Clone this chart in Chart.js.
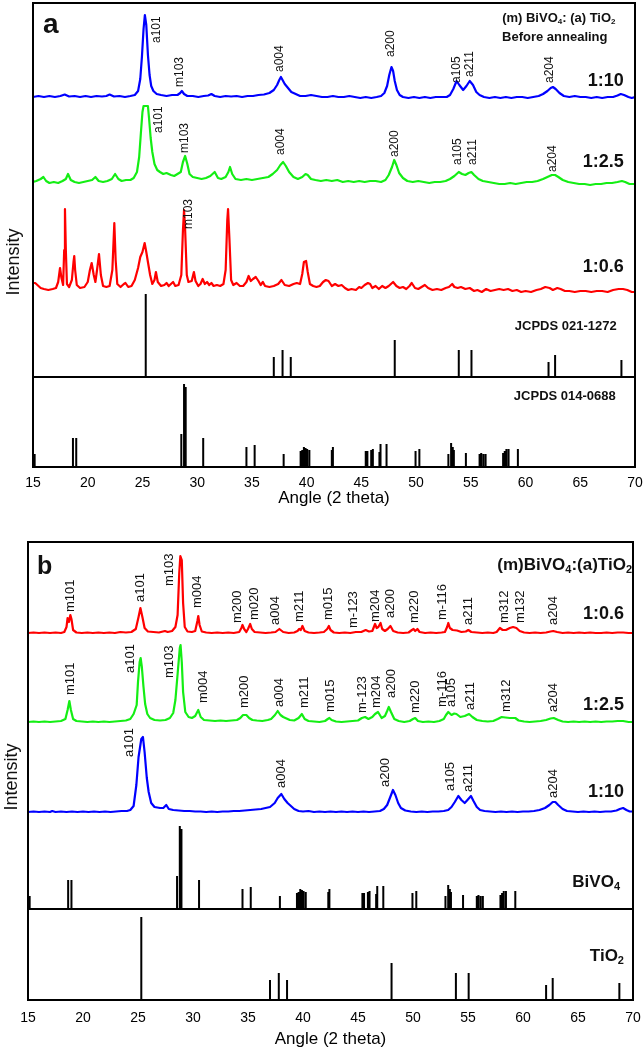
<!DOCTYPE html>
<html>
<head>
<meta charset="utf-8">
<script src="https://cdn.jsdelivr.net/npm/chart.js@4.4.0/dist/chart.umd.min.js"></script>
<style>
  html, body { margin: 0; padding: 0; background: #fff; }
  canvas { display: block; }
</style>
</head>
<body>
<canvas id="chartA" width="644" height="510"></canvas>
<canvas id="chartB" width="644" height="540"></canvas>
<script>
"use strict";

const FONT = 'Arial, "Liberation Sans", sans-serif';

// 2 theta axis
const angleMin = 15, angleMax = 70, angleStep = 5;

// reference cards: anatase TiO2 (JCPDS 021-1272) and monoclinic BiVO4 (JCPDS 014-0688)
const tio2Pos = [25.3, 37.0, 37.8, 38.55, 48.05, 53.9, 55.06, 62.1, 62.7, 68.76];
const tio2Int = [83, 20, 27, 20, 37, 27, 27, 15, 22, 17];
const bivo4Pos = [15.15, 18.65, 18.95, 28.55, 28.8, 28.95, 30.55, 34.5, 35.25, 37.9,
  39.45, 39.6, 39.75, 39.9, 40.05, 40.25, 42.3, 42.4, 45.4, 45.55, 45.9, 46.05,
  46.65, 46.75, 47.3, 49.95, 50.3, 52.95, 53.2, 53.35, 53.45, 54.55, 55.8, 55.95,
  56.15, 56.35, 57.95, 58.1, 58.25, 58.45, 59.3];
const bivo4Int = [13, 29, 29, 33, 83, 80, 29, 20, 22, 13,
  16, 17, 20, 19, 18, 17, 17, 20, 16, 16, 17, 18,
  15, 23, 23, 16, 18, 13, 24, 20, 17, 14, 13, 14,
  13, 13, 14, 16, 18, 18, 18];

// before annealing, [2theta, counts above own baseline]
const rawTen = [[15,0],[15.5,1],[16,0],[16.5,1],[17,0],[17.5,1],[17.9,2.5],[18.3,0.5],[18.8,1],[19.3,0],[19.8,1],[20.3,0],[20.8,1],[21.3,0.5],[21.7,1],[22.0,2.5],[22.4,0.5],[22.9,1],[23.4,0],[23.9,1],[24.3,2],[24.6,6],[24.8,18],[24.95,40],[25.1,68],[25.22,82],[25.35,72],[25.5,42],[25.65,22],[25.8,11],[26.0,6],[26.3,3],[26.7,2],[27.2,1],[27.7,2],[28.2,2],[28.45,4],[28.6,6],[28.8,3],[29.1,1],[29.6,1],[30.1,0],[30.6,1],[31.0,1.5],[31.3,3],[31.6,1],[32.1,0],[32.6,1],[33.1,0.5],[33.6,1],[34.1,0],[34.6,1],[35.1,1],[35.6,2],[36.1,2.5],[36.6,4],[37.0,7],[37.3,12],[37.5,17],[37.65,20],[37.8,17],[38.0,13],[38.3,9],[38.6,5],[39.0,3],[39.4,1],[39.9,1],[40.4,2],[40.9,1],[41.4,0],[41.9,0],[42.4,1],[42.9,0],[43.4,0],[43.9,1],[44.4,0],[44.9,-1],[45.4,0],[45.9,-1],[46.4,0],[46.8,1],[47.1,4],[47.35,11],[47.55,22],[47.75,30],[47.9,26],[48.05,16],[48.25,7],[48.5,2],[48.8,0],[49.3,-1],[49.8,0],[50.3,-1],[50.8,0],[51.3,-1],[51.8,0],[52.3,0],[52.8,0],[53.1,2],[53.4,8],[53.7,16],[53.95,12],[54.3,7],[54.6,11],[54.9,16],[55.2,12],[55.5,5],[55.8,2],[56.2,0],[56.7,-1],[57.2,0],[57.7,-1],[58.2,0],[58.7,-1],[59.2,0],[59.7,0],[60.2,-1],[60.7,0],[61.2,1],[61.6,3],[62.0,6],[62.3,9],[62.5,10],[62.75,8],[63.1,4],[63.5,1],[64.0,0],[64.5,1],[65.0,0],[65.5,0],[66.0,-1],[66.5,0],[67.0,-1],[67.5,0],[68.0,0],[68.4,1.5],[68.7,3],[69.0,2],[69.4,0],[69.7,-1],[70,0]];
const rawTwoFive = [[15,0],[15.3,1],[15.7,3],[15.95,5],[16.2,1],[16.5,-1],[16.9,0],[17.3,-1],[17.7,1],[18.0,3],[18.2,8],[18.45,2],[18.8,0],[19.2,-1],[19.6,0],[20.0,1],[20.4,2],[20.7,5],[21.0,1],[21.4,0],[21.8,1],[22.2,3],[22.5,8],[22.8,3],[23.1,1],[23.5,2],[23.9,2],[24.2,4],[24.5,10],[24.7,25],[24.85,48],[25.0,70],[25.1,76],[25.5,76],[25.6,64],[25.75,44],[25.9,30],[26.1,18],[26.35,12],[26.6,10],[26.9,8],[27.2,9],[27.6,7],[27.9,6],[28.2,8],[28.5,10],[28.7,20],[28.9,26],[29.1,18],[29.3,8],[29.6,5],[30.0,4],[30.4,3],[30.8,4],[31.2,6],[31.6,10],[31.9,4],[32.2,3],[32.6,5],[32.85,10],[33.0,15],[33.2,8],[33.5,3],[34.0,2],[34.5,3],[35.0,2],[35.5,3],[36.0,4],[36.5,5],[36.9,8],[37.3,12],[37.6,17],[37.85,20],[38.1,16],[38.4,10],[38.8,5],[39.2,3],[39.6,5],[39.9,8],[40.1,7],[40.4,3],[40.8,2],[41.3,1],[41.8,2],[42.3,1],[42.8,2],[43.3,0],[43.8,1],[44.3,0],[44.8,1],[45.3,0],[45.8,1],[46.3,1],[46.8,0],[47.2,2],[47.5,7],[47.8,15],[48.0,22],[48.2,17],[48.45,9],[48.8,4],[49.2,1],[49.7,0],[50.2,1],[50.7,0],[51.2,-1],[51.7,0],[52.2,0],[52.7,1],[53.1,3],[53.5,6],[53.9,10],[54.2,8],[54.5,7],[54.8,9],[55.05,10],[55.3,7],[55.7,3],[56.1,1],[56.6,0],[57.1,-1],[57.6,-2],[58.1,-2],[58.6,-1],[59.1,-2],[59.6,-1],[60.1,0],[60.6,0],[61.1,1],[61.6,3],[62.0,5],[62.4,7],[62.7,7],[63.0,5],[63.4,2],[63.9,0],[64.4,-1],[64.9,-2],[65.4,-2],[65.9,-3],[66.4,-2],[66.9,-2],[67.4,-1],[67.9,-1],[68.4,0],[68.8,1],[69.1,0],[69.5,-2],[70,-2]];
const rawZeroSix = [[15.0,7],[15.2,7],[15.4,5],[15.7,2],[16.0,1],[16.4,0],[16.8,1],[17.1,2],[17.3,8],[17.47,22],[17.6,12],[17.75,5],[17.85,40],[17.92,81],[18.0,40],[18.1,6],[18.3,3],[18.55,10],[18.7,28],[18.77,34],[18.85,20],[19.0,5],[19.3,2],[19.7,3],[20.0,8],[20.2,20],[20.36,27],[20.55,15],[20.7,8],[20.85,20],[21.03,36],[21.2,15],[21.4,4],[21.7,3],[22.0,4],[22.25,20],[22.43,67],[22.55,30],[22.7,6],[23.0,3],[23.3,6],[23.45,7],[23.7,3],[24.0,4],[24.3,10],[24.6,22],[24.8,33],[25.0,38],[25.2,47],[25.35,38],[25.5,28],[25.7,15],[25.9,6],[26.1,10],[26.23,18],[26.4,8],[26.7,4],[27.0,5],[27.2,7],[27.4,4],[27.6,6],[27.8,8],[28.0,4],[28.3,5],[28.55,15],[28.7,60],[28.8,80],[28.9,60],[29.05,15],[29.2,8],[29.5,9],[29.7,18],[29.85,9],[30.1,4],[30.3,6],[30.5,11],[30.7,6],[30.9,8],[31.1,5],[31.3,7],[31.5,4],[31.8,5],[32.1,4],[32.4,6],[32.6,20],[32.75,70],[32.82,81],[32.95,50],[33.1,10],[33.3,5],[33.6,7],[33.9,4],[34.2,4],[34.5,8],[34.7,14],[34.9,9],[35.1,11],[35.35,13],[35.6,9],[35.8,5],[36.0,8],[36.2,4],[36.6,3],[37.0,4],[37.4,6],[37.7,10],[38.0,5],[38.4,4],[38.8,6],[39.1,7],[39.4,6],[39.6,16],[39.75,28],[39.95,29],[40.1,18],[40.3,6],[40.6,4],[40.9,3],[41.2,4],[41.5,8],[41.75,10],[42.0,9],[42.3,4],[42.6,6],[42.9,4],[43.2,5],[43.5,2],[43.8,0],[44.1,1],[44.5,0],[44.8,3],[45.0,2],[45.3,5],[45.6,7],[45.8,6],[46.0,2],[46.3,4],[46.6,1],[46.9,4],[47.2,2],[47.5,4],[47.9,8],[48.2,4],[48.5,2],[48.8,3],[49.1,1],[49.4,4],[49.6,7],[49.9,2],[50.2,1],[50.5,3],[50.8,5],[51.1,2],[51.5,0],[51.9,1],[52.3,0],[52.7,2],[53.0,3],[53.3,6],[53.5,3],[53.8,2],[54.1,3],[54.5,1],[54.9,2],[55.3,-1],[55.6,0],[56.0,-2],[56.4,1],[56.8,-1],[57.2,0],[57.6,1],[58.0,0],[58.4,1],[58.8,-1],[59.2,0],[59.6,-2],[60.0,-1],[60.5,-2],[61.0,0],[61.4,1],[61.8,3],[62.2,2],[62.5,0],[62.9,2],[63.2,1],[63.6,-1],[64.0,-1],[64.5,-2],[65.0,-1],[65.5,-1],[66.0,-2],[66.5,-1],[67.0,-1],[67.5,-2],[68.0,0],[68.5,1],[68.9,1],[69.3,0],[69.7,-2],[70,-2]];

// second panel, same ratios
const annZeroSix = [[15,0],[15.5,0.5],[16,0],[16.5,0.5],[17,0],[17.5,0.5],[18.0,0],[18.3,1],[18.5,6],[18.6,15],[18.72,11],[18.85,18],[18.95,14],[19.1,3],[19.4,0.5],[19.9,0],[20.4,0.5],[20.9,0],[21.4,0.5],[21.9,0],[22.4,0.5],[22.9,0],[23.4,1],[23.9,0.5],[24.4,1],[24.8,4],[25.05,16],[25.22,25],[25.4,16],[25.6,5],[25.9,1.5],[26.4,1],[26.9,0.5],[27.45,2],[27.7,1],[28.1,2],[28.4,6],[28.6,18],[28.75,60],[28.85,77],[28.98,73],[29.1,30],[29.25,6],[29.5,1.5],[29.9,1],[30.2,2],[30.4,12],[30.48,17],[30.6,8],[30.8,1.5],[31.2,0.5],[31.7,0],[32.2,0.5],[32.7,0],[33.2,0.5],[33.7,0],[34.2,1],[34.4,5],[34.5,8],[34.65,4],[34.85,1],[35.0,4],[35.2,9],[35.35,4],[35.6,1],[36.1,0.5],[36.6,0],[37.1,0.5],[37.5,1],[37.85,4],[38.2,1],[38.7,0],[39.2,0.5],[39.5,2],[39.65,4],[39.8,3],[39.95,7],[40.15,2],[40.5,0.5],[41.0,0],[41.5,0.5],[41.9,1],[42.2,4],[42.35,7],[42.5,3],[42.8,0.5],[43.3,0],[43.8,0.5],[44.3,0],[44.8,1],[45.3,1],[45.7,3],[46.0,1.5],[46.3,2],[46.55,9],[46.7,5],[46.85,6],[47.05,10],[47.2,4],[47.45,2],[47.7,4],[47.95,7],[48.2,2],[48.6,0.5],[49.1,0],[49.6,0.5],[49.9,3],[50.05,4],[50.2,2],[50.4,4],[50.6,1],[51.1,0],[51.6,0.5],[52.1,0],[52.6,0.5],[52.9,1],[53.1,6],[53.21,10],[53.35,5],[53.6,3],[54.0,2.5],[54.4,1],[54.8,1.5],[55.03,3],[55.3,1],[55.8,0.5],[56.3,0],[56.8,0.5],[57.3,0],[57.6,1],[57.9,5],[58.15,3],[58.45,3],[58.8,5],[59.1,6],[59.4,5],[59.7,2],[60.1,0.5],[60.6,0],[61.1,0.5],[61.6,0],[62.1,0.5],[62.5,1.5],[62.75,2],[63.1,1],[63.6,0],[64.1,0.5],[64.6,0],[65.1,0.5],[65.6,0],[66.1,0.5],[66.6,0],[67.1,0],[67.6,0.5],[68.1,0],[68.6,0.5],[69.1,0.5],[69.6,0],[70,0]];
const annTwoFive = [[15,0],[15.5,0.5],[16,0],[16.5,0.5],[17,0],[17.5,0.5],[18.0,1],[18.4,3],[18.6,12],[18.76,21],[18.9,12],[19.1,3],[19.4,1],[19.9,0.5],[20.4,0],[20.9,0.5],[21.4,0],[21.9,0.5],[22.4,0],[22.9,0.5],[23.4,1],[23.9,1.5],[24.3,3],[24.6,8],[24.88,17],[25.0,40],[25.15,60],[25.24,64],[25.35,55],[25.5,35],[25.65,18],[25.85,8],[26.1,4],[26.5,2],[27.0,1.5],[27.5,2],[27.9,4],[28.2,9],[28.4,22],[28.6,48],[28.8,74],[28.87,77],[28.98,60],[29.1,30],[29.3,10],[29.6,5],[29.9,4],[30.2,6],[30.48,12],[30.7,5],[31.0,2],[31.5,1.5],[32.0,1],[32.5,1.5],[33.0,1],[33.5,1.5],[34.0,2],[34.3,4],[34.55,7],[34.85,7],[35.1,4],[35.4,2],[35.8,1.5],[36.3,1],[36.8,2],[37.1,3],[37.45,7],[37.7,11],[37.95,7],[38.2,5],[38.5,3.5],[38.8,2],[39.2,1.5],[39.6,4],[39.9,8],[40.15,3],[40.5,1],[41.0,0.5],[41.5,0],[42.0,1],[42.25,3],[42.4,4],[42.6,2],[43.0,0.5],[43.5,0],[44.0,0.5],[44.5,1],[45.0,1.5],[45.35,4],[45.65,5],[45.95,3],[46.3,5],[46.55,8],[46.82,10],[47.15,4],[47.45,6],[47.65,11],[47.8,15],[48.0,10],[48.3,3],[48.7,1],[49.2,0],[49.7,1],[50.0,3],[50.2,4],[50.45,1],[50.9,0],[51.4,0.5],[51.9,0],[52.4,1],[52.8,3],[53.0,7],[53.21,10],[53.5,7],[53.75,8.5],[53.95,8],[54.3,5],[54.7,6],[55.1,8],[55.4,5],[55.8,2],[56.3,1],[56.8,0.5],[57.3,1],[57.7,3],[58.06,5],[58.4,4.5],[58.8,4],[59.3,4],[59.6,1.5],[60.1,0.5],[60.6,0],[61.1,0.5],[61.6,1],[62.1,2],[62.5,3.5],[62.8,4],[63.2,2],[63.6,0.5],[64.1,0],[64.6,0.5],[65.1,0],[65.6,0.5],[66.1,0],[66.6,0.5],[67.1,0],[67.6,0.5],[68.1,0.5],[68.6,1],[69.1,1],[69.6,0],[70,0]];
const annTen = [[15,0],[15.5,0.5],[16,0],[16.5,0.5],[17,0],[17.2,1],[17.5,0],[18,0.5],[18.5,0],[19,0.5],[19.5,0],[20,0.5],[20.5,0],[21,0.5],[21.5,0],[22,0.5],[22.5,0],[23,0.5],[23.5,1],[24,1],[24.3,2],[24.6,6],[24.85,27],[25.05,55],[25.3,73],[25.45,75],[25.6,60],[25.8,34],[25.97,20],[26.2,9],[26.5,5],[27.0,4],[27.3,4],[27.57,7],[27.8,3],[28.2,2],[28.7,1.5],[29.2,1],[29.7,1],[30.2,0.5],[30.7,0.5],[31.2,0],[31.7,0.5],[32.2,0],[32.7,0.5],[33.2,0.5],[33.7,1],[34.2,1],[34.7,1.5],[35.2,2],[35.7,2.5],[36.2,3],[36.6,4],[37.0,5],[37.43,9],[37.7,14],[38.03,18],[38.3,13],[38.6,9],[38.9,6],[39.2,3],[39.6,1],[40.0,0.5],[40.5,1],[41.0,0],[41.5,0.5],[42.0,0],[42.5,0.5],[43.0,0],[43.5,0.5],[44.0,0],[44.5,0.5],[45.0,0],[45.5,0.5],[46.0,0],[46.5,0.5],[47.0,1],[47.35,3],[47.65,7],[47.9,14],[48.18,22],[48.4,17],[48.65,9],[48.9,4],[49.3,1.5],[49.8,0.5],[50.3,0],[50.8,0.5],[51.3,0],[51.8,0.5],[52.3,0.5],[52.8,1],[53.2,2],[53.5,5],[53.8,10],[54.12,16],[54.4,12],[54.7,9],[54.95,12],[55.27,16],[55.5,11],[55.8,5],[56.1,2],[56.5,1],[57.0,0.5],[57.5,0],[58.0,0.5],[58.5,0],[59.0,0.5],[59.5,0],[60.0,0.5],[60.5,0.5],[61.0,1],[61.5,2],[62.0,4],[62.4,7],[62.7,10],[62.94,10],[63.2,7],[63.6,3],[64.0,1],[64.5,0.5],[65.0,0],[65.5,0.5],[66.0,0],[66.5,0.5],[67.0,0],[67.5,0.5],[68.0,0.5],[68.5,1.5],[68.8,3],[69.1,4],[69.4,2],[69.7,0.5],[70,0.5]];

// peak names: [label, 2theta, height where the label starts]
const rawTenPeaks = [['a101',26.3,424],['m103',28.4,380],['a004',37.55,395],['a200',47.7,410],['a105',53.7,384],['a211',54.9,390],['a204',62.2,384]];
const rawTwoFivePeaks = [['a101',26.45,334],['m103',28.9,314],['a004',37.6,312],['a200',48.0,310],['a105',53.8,302],['a211',55.2,302],['a204',62.5,295]];
const rawZeroSixPeaks = [['m103',29.2,238]];
const annZeroSixPeaks = [['m101',18.9,388],['a101',25.24,398],['m103',27.9,414],['m004',30.4,392],['m200',34.0,377],['m020',35.6,380],['a004',37.5,375],['m211',39.7,378],['m015',42.35,380],['m-123',44.6,372],['m204',46.55,378],['a200',47.97,382],['m220',50.1,377],['m-116',52.7,380],['a211',55.0,375],['m312',58.3,377],['m132',59.8,377],['a204',62.76,375]];
const annTwoFivePeaks = [['m101',18.9,305],['a101',24.3,327],['m103',27.85,322],['m004',30.94,297],['m200',34.7,292],['a004',37.85,293],['m211',40.1,292],['m015',42.5,288],['m-123',45.4,287],['m204',46.7,292],['a200',48.06,302],['m220',50.2,287],['m-116',52.7,293],['a105',53.5,293],['a211',55.2,290],['m312',58.5,288],['a204',62.8,288]];
const annTenPeaks = [['a101',24.25,243],['a004',38.0,212],['a200',47.5,213],['a105',53.4,209],['a211',55.0,208],['a204',62.76,202]];

const BLUE = '#0000ff', GREEN = '#14ee14', RED = '#ff0000';

function trace(points, base, color) {
    return {
        data: points.map(([a, v]) => ({ x: a, y: base + v })),
        borderColor: color,
        borderWidth: 2.2,
        fill: false,
    };
}

function sticks(pos, ints, base) {
    const data = [];
    pos.forEach((p, i) => {
        data.push({ x: p, y: base }, { x: p, y: base + ints[i] }, { x: p, y: null });
    });
    return { data, borderColor: '#000', borderWidth: 2, spanGaps: false, borderCapStyle: 'butt' };
}

function divider(level) {
    return { data: [{ x: angleMin, y: level }, { x: angleMax, y: level }], borderColor: '#000', borderWidth: 2 };
}

function drawNote(ctx, x, y, n) {
    const px = x.getPixelForValue(n.at[0]), py = y.getPixelForValue(n.at[1]);
    const weight = n.bold ? 'bold ' : '';
    const big = weight + n.size + 'px ' + FONT;
    const small = weight + Math.round(n.size * 0.62) + 'px ' + FONT;
    const parts = typeof n.text === 'string' ? [[n.text, false]] : n.text;
    let w = 0;
    parts.forEach(([s, sub]) => { ctx.font = sub ? small : big; w += ctx.measureText(s).width; });
    ctx.save();
    ctx.translate(px, py);
    if (n.rotate) ctx.rotate(-Math.PI / 2);
    let cx = n.align === 'right' ? -w : n.align === 'center' ? -w / 2 : 0;
    ctx.textAlign = 'left';
    ctx.textBaseline = n.baseline || 'middle';
    parts.forEach(([s, sub]) => {
        ctx.font = sub ? small : big;
        ctx.fillText(s, cx, sub ? n.size * 0.3 : 0);
        cx += ctx.measureText(s).width;
    });
    ctx.restore();
}

function notesPlugin(notes, peaks, peakFont) {
    return {
        id: 'notes',
        afterDatasetsDraw(chart) {
            const { ctx, chartArea: ca, scales: { x, y } } = chart;
            ctx.save();
            ctx.strokeStyle = '#000';
            ctx.lineWidth = 2;
            ctx.strokeRect(ca.left, ca.top, ca.right - ca.left, ca.bottom - ca.top);
            ctx.fillStyle = '#111';
            ctx.font = peakFont;
            ctx.textAlign = 'left';
            ctx.textBaseline = 'middle';
            peaks.forEach(([t, a, v]) => {
                ctx.save();
                ctx.translate(x.getPixelForValue(a), y.getPixelForValue(v));
                ctx.rotate(-Math.PI / 2);
                ctx.fillText(t, 0, 0);
                ctx.restore();
            });
            notes.forEach(n => drawNote(ctx, x, y, n));
            ctx.restore();
        }
    };
}

function xrdChart(id, cfg) {
    return new Chart(document.getElementById(id), {
        type: 'line',
        data: { datasets: cfg.datasets },
        options: {
            responsive: false,
            animation: false,
            events: [],
            layout: { padding: cfg.padding },
            elements: {
                point: { radius: 0 },
                line: { tension: 0, borderJoinStyle: 'round' },
            },
            plugins: {
                legend: { display: false },
                tooltip: { enabled: false },
            },
            scales: {
                x: {
                    type: 'linear',
                    min: angleMin,
                    max: angleMax,
                    offset: false,
                    ticks: { stepSize: angleStep, color: '#000', font: { size: 14 }, padding: cfg.tickPad, maxRotation: 0 },
                    grid: { display: false, drawTicks: false },
                    border: { display: false },
                    title: {
                        display: true,
                        text: 'Angle (2 theta)',
                        color: '#000',
                        font: { size: 17 },
                        padding: { top: 0, bottom: cfg.titlePad },
                    },
                    afterFit: s => {
                        s.height = cfg.axisH;
                        s.paddingLeft = 0;
                        s.paddingRight = 0;
                    },
                },
                y: {
                    type: 'linear',
                    min: 0,
                    max: cfg.yMax,
                    ticks: { display: false },
                    grid: { display: false, drawTicks: false },
                    border: { display: false },
                    afterFit: s => { s.width = cfg.axisW; },
                },
            },
        },
        plugins: [notesPlugin(cfg.notes, cfg.peaks, cfg.peakFont)],
    });
}

Chart.defaults.font.family = FONT;
Chart.defaults.color = '#000';

// panel a: before annealing
xrdChart('chartA', {
    padding: { top: 3, right: 9, left: 0, bottom: 0 },
    axisW: 33, axisH: 43, yMax: 464, tickPad: 8, titlePad: 1,
    peakFont: '12px ' + FONT,
    datasets: [
        trace(rawTen, 370, BLUE),
        trace(rawTwoFive, 285, GREEN),
        trace(rawZeroSix, 177, RED),
        sticks(tio2Pos, tio2Int, 90),
        divider(90),
        sticks(bivo4Pos, bivo4Int, 0),
    ],
    peaks: [...rawTenPeaks, ...rawTwoFivePeaks, ...rawZeroSixPeaks],
    notes: [
        { text: 'a', at: [15.91, 434], size: 28, bold: true, baseline: 'alphabetic' },
        { text: [['(m) BiVO', false], ['4', true], [': (a) TiO', false], ['2', true]], at: [63.04, 449], size: 13, bold: true, align: 'center' },
        { text: 'Before annealing', at: [62.67, 429.5], size: 13, bold: true, align: 'center' },
        { text: '1:10', at: [68.97, 386], size: 18, bold: true, align: 'right' },
        { text: '1:2.5', at: [68.97, 305], size: 18, bold: true, align: 'right' },
        { text: '1:0.6', at: [68.97, 200], size: 18, bold: true, align: 'right' },
        { text: 'JCPDS 021-1272', at: [68.33, 141], size: 13, bold: true, align: 'right' },
        { text: 'JCPDS 014-0688', at: [68.24, 70.5], size: 13, bold: true, align: 'right' },
        { text: 'Intensity', at: [13.26, 205], size: 18, align: 'center', rotate: true },
    ],
});

// panel b
xrdChart('chartB', {
    padding: { top: 32, right: 11, left: 0, bottom: 0 },
    axisW: 28, axisH: 50, yMax: 458, tickPad: 10, titlePad: 0,
    peakFont: '13px ' + FONT,
    datasets: [
        trace(annZeroSix, 367, RED),
        trace(annTwoFive, 278, GREEN),
        trace(annTen, 188, BLUE),
        sticks(bivo4Pos, bivo4Int, 91),
        divider(91),
        sticks(tio2Pos, tio2Int, 0),
    ],
    peaks: [...annZeroSixPeaks, ...annTwoFivePeaks, ...annTenPeaks],
    notes: [
        { text: 'b', at: [15.82, 426], size: 25, bold: true, baseline: 'alphabetic' },
        { text: [['(m)BiVO', false], ['4', true], [':(a)TiO', false], ['2', true]], at: [69.91, 435], size: 17, bold: true, align: 'right' },
        { text: '1:0.6', at: [69.18, 385.5], size: 18, bold: true, align: 'right' },
        { text: '1:2.5', at: [69.18, 295], size: 18, bold: true, align: 'right' },
        { text: '1:10', at: [69.18, 208], size: 18, bold: true, align: 'right' },
        { text: [['BiVO', false], ['4', true]], at: [68.82, 118], size: 17, bold: true, align: 'right' },
        { text: [['TiO', false], ['2', true]], at: [69.18, 44], size: 17, bold: true, align: 'right' },
        { text: 'Intensity', at: [13.55, 223], size: 18, align: 'center', rotate: true },
    ],
});
</script>
</body>
</html>
